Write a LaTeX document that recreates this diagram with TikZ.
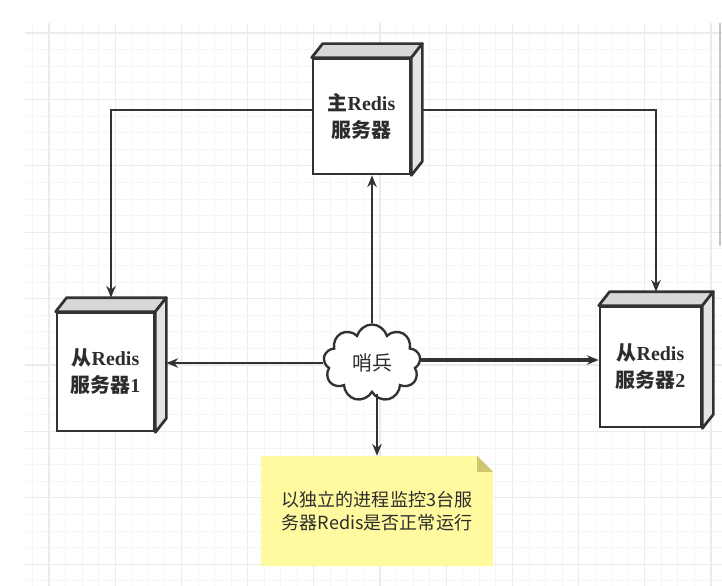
\documentclass[tikz,border=0pt]{standalone}
\usepackage{fontspec}
\setmainfont{Liberation Serif}
\newfontfamily\cjk{Noto Sans CJK SC}
\usetikzlibrary{positioning, arrows.meta, shapes.symbols, calc}
\definecolor{gridminor}{RGB}{245,245,245}
\definecolor{gridmajor}{RGB}{235,235,235}
\definecolor{linegray}{RGB}{50,50,50}
\definecolor{textgray}{RGB}{45,45,45}
\definecolor{topface}{RGB}{215,215,215}
\definecolor{sideface}{RGB}{228,228,228}
\definecolor{noteyellow}{RGB}{255,250,160}
\definecolor{notefold}{RGB}{205,200,112}

\begin{document}
\begin{tikzpicture}[x=0.03cm, y=-0.03cm,
    server/.style={draw=linegray, line width=2.3pt, fill=white, align=center, text=textgray,
        font=\fontsize{17}{23}\selectfont\bfseries, inner sep=0pt},
    sentinel/.style={cloud, cloud puffs=9, aspect=1.3, draw=linegray, line width=2pt, fill=white,
        text=textgray, font=\cjk\fontsize{17}{20}\selectfont, minimum width=2.91cm, minimum height=2.31cm},
    conn/.style={draw=linegray, line width=1.7pt, -{Stealth[length=10pt, width=8pt]}}]
    \useasboundingbox (0,0) rectangle (722,586);
    \fill[white] (0,0) rectangle (722,586);

    % Grille de fond
    \begin{scope}
        \clip (25,23) rectangle (722,586);
        \foreach \i in {0,...,42} {
            \draw[gridminor, line width=0.8pt] (32.5+16.55*\i, 23) -- (32.5+16.55*\i, 586);
        }
        \foreach \i in {0,...,34} {
            \draw[gridminor, line width=0.8pt] (25, 33+16.6*\i) -- (722, 33+16.6*\i);
        }
        \foreach \i in {0,...,10} {
            \draw[gridmajor, line width=1.1pt] (49+66.2*\i, 23) -- (49+66.2*\i, 586);
        }
        \foreach \i in {0,...,8} {
            \draw[gridmajor, line width=1.1pt] (25, 33+66.4*\i) -- (722, 33+66.4*\i);
        }
    \end{scope}
    \draw[gray!45, line width=1.6pt] (720,23) -- (720,246);

    % Serveurs Redis
    \node[server, minimum width=2.91cm, minimum height=3.45cm] (master) at (361.5,116.5)
        {{\cjk 主}Redis\\{\cjk 服务器}};
    \node[server, minimum width=2.91cm, minimum height=3.54cm] (slave1) at (105.5,372)
        {{\cjk 从}Redis\\{\cjk 服务器}1};
    \node[server, minimum width=3.03cm, minimum height=3.6cm] (slave2) at (650.5,367)
        {{\cjk 从}Redis\\{\cjk 服务器}2};

    % Faces 3D
    \foreach \n in {master, slave1, slave2} {
        \draw[fill=topface, draw=linegray, line width=2.3pt, line join=round]
            (\n.north west) -- ++(11,-14) -- ($(\n.north east)+(11,-14)$) -- (\n.north east) -- cycle;
        \draw[fill=sideface, draw=linegray, line width=2.3pt, line join=round]
            (\n.north east) -- ++(11,-14) -- ($(\n.south east)+(11,-14)$) -- (\n.south east) -- cycle;
    }

    % Sentinelle et note
    \node[sentinel] (sent) at (372,363) {哨兵};
    \node[minimum width=6.96cm, minimum height=3.3cm, align=center, text=textgray,
        font=\cjk\fontsize{15.4}{19}\selectfont] (note) at (377,511) {};
    \fill[noteyellow] (note.south west) -- (note.north west) -- ($(note.north east)+(-16,0)$)
        -- ($(note.north east)+(0,16)$) -- (note.south east) -- cycle;
    \fill[notefold] ($(note.north east)+(-16,0)$) -- ($(note.north east)+(0,16)$)
        -- ($(note.north east)+(-16,16)$) -- cycle;
    \node[align=center, text=textgray, font=\cjk\fontsize{15.4}{19}\selectfont] (notetext) at (note.center)
        {以独立的进程监控3台服\\务器Redis是否正常运行};

    % Liaisons
    \coordinate (s1top) at ($(slave1.north)+(5.5,-14)$);
    \coordinate (s2top) at ($(slave2.north)+(5.5,-14)$);
    \coordinate (s1side) at ($(slave1.east)+(11,0)$);
    \draw[conn] ($(master.west)+(0,-6.5)$) -| (s1top);
    \draw[conn] ($(master.east)+(11,-6.5)$) -| (s2top);
    \draw[conn] (sent.north) -- (sent.north |- master.south);
    \draw[conn] (sent.west) -- (sent.west -| s1side);
    \draw[conn, line width=2.6pt] ($(sent.east)+(0,-3)$) -- ($(sent.east -| slave2.west)+(0,-3)$);
    \draw[conn] (sent.south -| note.north) -- (note.north);
\end{tikzpicture}
\end{document}
